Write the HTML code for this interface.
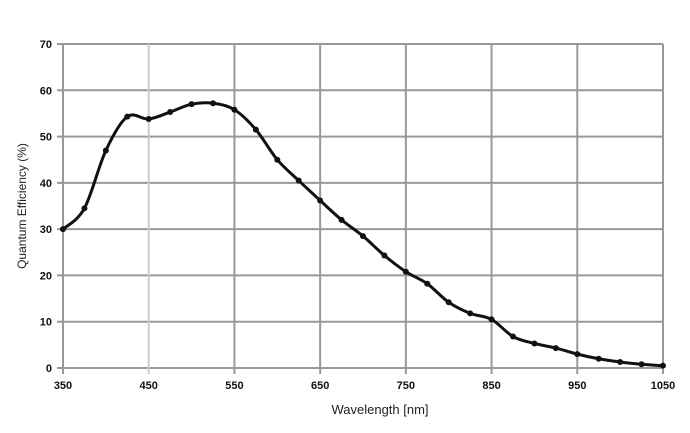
<!DOCTYPE html>
<html><head><meta charset="utf-8"><style>
body{margin:0;background:#fff;font-family:"Liberation Sans",sans-serif;}
</style></head><body>
<svg width="690" height="428" xmlns="http://www.w3.org/2000/svg">
<g id="grid"></g><g id="axes"></g><path id="curve" fill="none" stroke="#111" stroke-width="3" stroke-linejoin="round"/><g id="dots"></g>
<text x="380" y="414" text-anchor="middle" font-size="13" fill="#222">Wavelength [nm]</text>
<text transform="translate(26,206) rotate(-90)" text-anchor="middle" font-size="12" fill="#222">Quantum Efficiency (%)</text>
</svg>
<script>
const wavelengths=[350,375,400,425,450,475,500,525,550,575,600,625,650,675,700,725,750,775,800,825,850,875,900,925,950,975,1000,1025,1050];
const qe=[30,34.5,47,54.3,53.8,55.3,57,57.2,55.8,51.5,45,40.5,36.2,32,28.5,24.3,20.8,18.2,14.2,11.8,10.5,6.8,5.3,4.3,3,2,1.3,0.8,0.5];
const xTicks=[350,450,550,650,750,850,950,1050];
const yTicks=[0,10,20,30,40,50,60,70];
const NS="http://www.w3.org/2000/svg";
const X=v=>63+(v-350)/700*600, Y=v=>368-v/70*324;
const grid=document.getElementById('grid'), axes=document.getElementById('axes');
function mk(t,a,p){const e=document.createElementNS(NS,t);for(const k in a)e.setAttribute(k,a[k]);p.appendChild(e);return e;}
yTicks.forEach(t=>{
 const l=mk('line',{x1:57,x2:663,y1:Y(t),y2:Y(t),stroke:'#999','stroke-width':2},grid);
 
 
 const tx=mk('text',{x:52,y:Y(t)+4,'text-anchor':'end','font-size':11,'font-weight':'bold',fill:'#111'},axes);tx.textContent=t;
 
 
});
xTicks.forEach(t=>{
 const l=mk('line',{x1:X(t),x2:X(t),y1:Y(70),y2:374,stroke:t==450?'#ccc':'#999','stroke-width':2},grid);
 
 
 const tx=mk('text',{x:X(t),y:389,'text-anchor':'middle','font-size':11,'font-weight':'bold',fill:'#111'},axes);tx.textContent=t;
 
 
});
const pts=wavelengths.map((w,i)=>[X(w),Y(qe[i])]);
let d='M'+pts[0];
for(let i=0;i<pts.length-1;i++){const p0=pts[i-1]||pts[i],p1=pts[i],p2=pts[i+1],p3=pts[i+2]||p2;
 d+=` C${p1[0]+(p2[0]-p0[0])/6},${p1[1]+(p2[1]-p0[1])/6} ${p2[0]-(p3[0]-p1[0])/6},${p2[1]-(p3[1]-p1[1])/6} ${p2[0]},${p2[1]}`;}
document.getElementById('curve').setAttribute('d',d);
const dots=document.getElementById('dots');
pts.forEach(p=>{const c=mk('circle',{cx:p[0],cy:p[1],r:3,fill:'#111'},dots);
 
 });
</script>
</body></html>
